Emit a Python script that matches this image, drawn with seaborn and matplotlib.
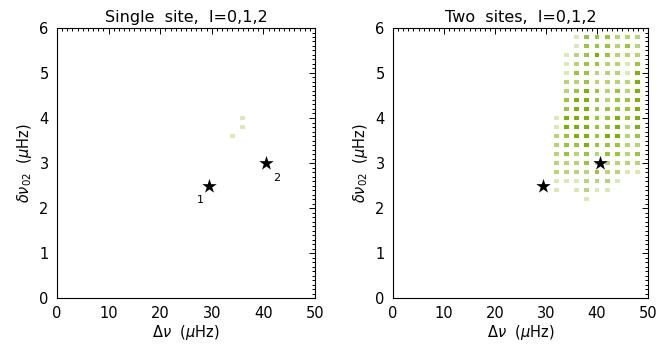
import numpy as np
import pandas as pd
import matplotlib
matplotlib.use("Agg")
import matplotlib.pyplot as plt
import seaborn as sns
from matplotlib.ticker import MultipleLocator

sns.set_style("white")
plt.rcParams["font.family"] = ["DejaVu Sans"]
plt.rcParams["mathtext.fontset"] = "dejavusans"
for key in ["text.color", "axes.labelcolor", "xtick.color", "ytick.color"]:
    plt.rcParams[key] = "black"

# Grid of large separations (columns) and small separations (rows) tested
grid_dnu = [32, 34, 36, 38, 40, 42, 44, 46, 48]
grid_d02 = [5.8, 5.6, 5.4, 5.2, 5.0, 4.8, 4.6, 4.4, 4.2, 4.0,
            3.8, 3.6, 3.4, 3.2, 3.0, 2.8, 2.6, 2.4, 2.2]

# Detection level for two sites (0 = none, 4 = strongest), one list per row
two_site_levels = [
    [0, 0, 1, 3, 3, 3, 2, 2, 2],
    [0, 0, 1, 3, 3, 3, 2, 3, 2],
    [0, 1, 2, 3, 4, 3, 2, 2, 2],
    [0, 1, 2, 3, 3, 2, 2, 1, 3],
    [0, 1, 3, 3, 2, 2, 2, 1, 4],
    [0, 2, 2, 3, 2, 2, 2, 2, 4],
    [0, 2, 3, 4, 3, 2, 3, 2, 4],
    [0, 3, 4, 4, 3, 2, 3, 3, 4],
    [0, 3, 4, 4, 3, 3, 3, 3, 4],
    [1, 4, 4, 4, 3, 3, 4, 3, 4],
    [1, 4, 4, 4, 3, 3, 4, 2, 4],
    [2, 3, 4, 4, 3, 4, 4, 2, 3],
    [2, 3, 3, 4, 3, 3, 3, 2, 2],
    [2, 3, 2, 3, 2, 3, 3, 2, 3],
    [2, 2, 2, 3, 2, 2, 2, 2, 2],
    [2, 2, 2, 2, 3, 2, 2, 1, 1],
    [1, 1, 1, 2, 2, 2, 1, 0, 0],
    [1, 0, 1, 2, 1, 1, 0, 0, 0],
    [0, 0, 0, 1, 0, 0, 0, 0, 0],
]

# Single-site detections
single_dnu = [36, 36, 34]
single_d02 = [4.0, 3.8, 3.6]
single_levels = [1, 1, 1]

# Reference stars
star_dnu = [29.5, 40.5]
star_d02 = [2.5, 3.0]
star_names = ["1", "2"]

level_colors = {1: "#dbe8b8", 2: "#b8d574", 3: "#9bc53a", 4: "#7db300"}

rows = []
for yv, levels in zip(grid_d02, two_site_levels):
    for xv, lv in zip(grid_dnu, levels):
        if lv > 0:
            rows.append((xv, yv, lv))
two_df = pd.DataFrame(rows, columns=["dnu", "d02", "level"])
single_df = pd.DataFrame({"dnu": single_dnu, "d02": single_d02, "level": single_levels})
star_df = pd.DataFrame({"dnu": star_dnu, "d02": star_d02, "name": star_names})

fig = plt.figure(figsize=(6.71, 3.49), dpi=100)
ax1 = fig.add_axes([57 / 671, 1 - 298 / 349, 258 / 671, 270 / 349])
ax2 = fig.add_axes([393 / 671, 1 - 298 / 349, 255 / 671, 270 / 349])

panels = [(ax1, single_df, "Single  site,  l=0,1,2", True),
          (ax2, two_df, "Two  sites,  l=0,1,2", False)]

for ax, df, title, label_stars in panels:
    sns.scatterplot(data=df, x="dnu", y="d02", hue="level", palette=level_colors,
                    marker="s", s=12, linewidth=0, legend=False, ax=ax, zorder=2)
    sns.scatterplot(data=star_df, x="dnu", y="d02", marker="*", color="black",
                    s=120, linewidth=0, legend=False, ax=ax, zorder=3)
    if label_stars:
        ax.text(star_dnu[0] - 1.7, star_d02[0] - 0.33, star_names[0], fontsize=8,
                ha="center", va="center")
        ax.text(star_dnu[1] + 2.1, star_d02[1] - 0.34, star_names[1], fontsize=8,
                ha="center", va="center")
    ax.set_xlim(0, 50)
    ax.set_ylim(0, 6)
    ax.xaxis.set_major_locator(MultipleLocator(10))
    ax.xaxis.set_minor_locator(MultipleLocator(1))
    ax.yaxis.set_major_locator(MultipleLocator(1))
    ax.yaxis.set_minor_locator(MultipleLocator(0.1))
    ax.tick_params(which="both", direction="in", top=True, right=True,
                   labelsize=10.5, width=0.7, color="black")
    ax.tick_params(which="major", length=4, pad=6)
    ax.tick_params(which="minor", length=2)
    for sp in ax.spines.values():
        sp.set_color("black")
        sp.set_linewidth(0.8)
    ax.set_title(title, fontsize=11.5, pad=4)
    ax.set_xlabel(r"$\Delta\nu$  ($\mu$Hz)", fontsize=10.5, labelpad=1)
    ax.set_ylabel(r"$\delta\nu_{02}$  ($\mu$Hz)", fontsize=10.5, labelpad=4)

fig.savefig("out.png", dpi=100)
